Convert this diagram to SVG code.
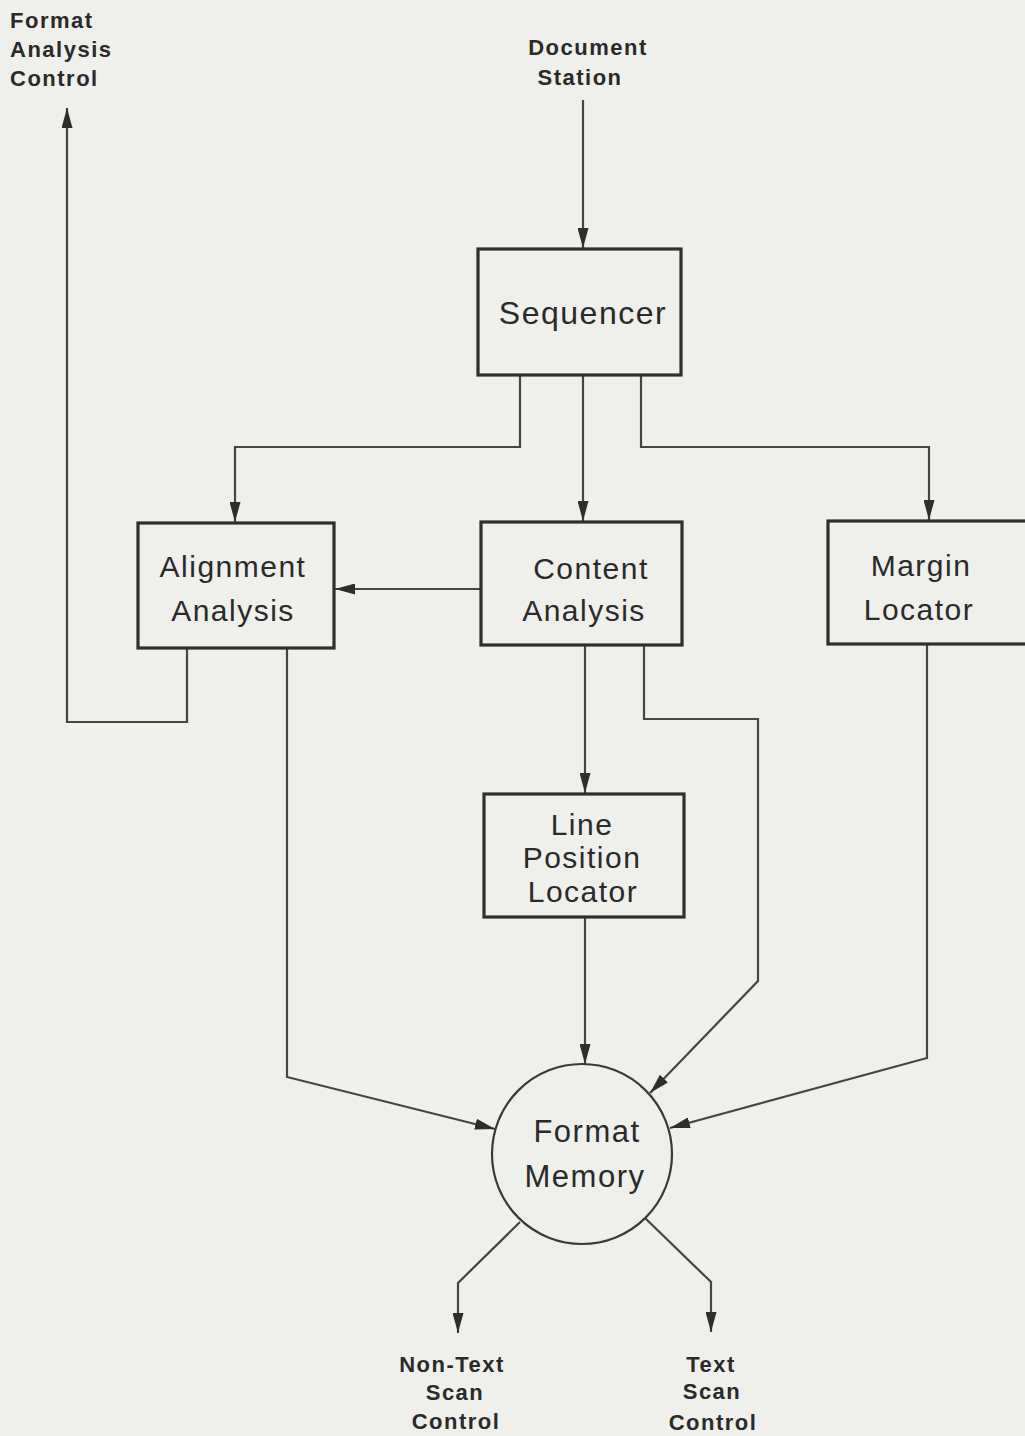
<svg xmlns="http://www.w3.org/2000/svg" width="1025" height="1436" viewBox="0 0 1025 1436">
<style>
.bg{fill:#efefeb}
.box{fill:#efefeb;stroke:#2e2e2e;stroke-width:3.2}
.circ{fill:#efefeb;stroke:#3a3a3a;stroke-width:2.2}
.c{fill:none;stroke:#454545;stroke-width:2.2;stroke-linejoin:miter}
.t{font-family:"Liberation Sans",Arial,sans-serif;font-size:30px;fill:#2a2a2a;text-anchor:middle;letter-spacing:1.5px}
.b{font-family:"Liberation Sans",Arial,sans-serif;font-size:22px;font-weight:bold;fill:#2a2a2a;letter-spacing:1.5px}
</style>
<defs>
<marker id="ah" viewBox="0 0 20 11" refX="20" refY="5.5" markerWidth="20" markerHeight="11" markerUnits="userSpaceOnUse" orient="auto">
<path d="M0,0 L20,5.5 L0,11 Z" fill="#2e2e2e"/>
</marker>
</defs>
<rect class="bg" x="0" y="0" width="1025" height="1436"/>

<g id="connectors">
<path class="c" d="M583,100 V248" marker-end="url(#ah)"/>
<path class="c" d="M520,375 V447 H235 V522" marker-end="url(#ah)"/>
<path class="c" d="M583,375 V521" marker-end="url(#ah)"/>
<path class="c" d="M641,375 V447 H929 V520" marker-end="url(#ah)"/>
<path class="c" d="M481,589 H335" marker-end="url(#ah)"/>
<path class="c" d="M187,648 V722 H67 V108" marker-end="url(#ah)"/>
<path class="c" d="M287,648 V1077 L495,1129" marker-end="url(#ah)"/>
<path class="c" d="M585,645 V793" marker-end="url(#ah)"/>
<path class="c" d="M644,645 V719 H758 V981 L650,1093" marker-end="url(#ah)"/>
<path class="c" d="M585,917 V1064" marker-end="url(#ah)"/>
<path class="c" d="M927,645 V1058 L670,1128" marker-end="url(#ah)"/>
<path class="c" d="M520,1222 L458,1283 V1333" marker-end="url(#ah)"/>
<path class="c" d="M645,1218 L711,1282 V1332" marker-end="url(#ah)"/>
</g>

<g id="format-analysis-control">
<text class="b" x="10" y="28">Format</text>
<text class="b" x="10" y="57">Analysis</text>
<text class="b" x="10" y="86">Control</text>
</g>

<g id="document-station">
<text class="b" x="588" y="55" text-anchor="middle">Document</text>
<text class="b" x="580" y="85" text-anchor="middle">Station</text>
</g>

<g id="sequencer">
<rect class="box" x="478" y="249" width="203" height="126"/>
<text class="t" x="583" y="324" style="font-size:32px">Sequencer</text>
</g>

<g id="alignment-analysis">
<rect class="box" x="138" y="523" width="196" height="125"/>
<text class="t" x="233" y="577">Alignment</text>
<text class="t" x="233" y="621">Analysis</text>
</g>

<g id="content-analysis">
<rect class="box" x="481" y="522" width="201" height="123"/>
<text class="t" x="591" y="579">Content</text>
<text class="t" x="584" y="621">Analysis</text>
</g>

<g id="margin-locator">
<rect class="box" x="828" y="521" width="205" height="123"/>
<text class="t" x="921" y="576">Margin</text>
<text class="t" x="919" y="620">Locator</text>
</g>

<g id="line-position-locator">
<rect class="box" x="484" y="794" width="200" height="123"/>
<text class="t" x="582" y="835">Line</text>
<text class="t" x="582" y="868">Position</text>
<text class="t" x="583" y="902">Locator</text>
</g>

<g id="format-memory">
<circle class="circ" cx="582" cy="1154" r="90"/>
<text class="t" x="587" y="1142" style="font-size:31px">Format</text>
<text class="t" x="585" y="1187" style="font-size:31px">Memory</text>
</g>

<g id="non-text-scan-control">
<text class="b" x="452" y="1372" text-anchor="middle">Non-Text</text>
<text class="b" x="455" y="1400" text-anchor="middle">Scan</text>
<text class="b" x="456" y="1429" text-anchor="middle">Control</text>
</g>

<g id="text-scan-control">
<text class="b" x="711" y="1372" text-anchor="middle">Text</text>
<text class="b" x="712" y="1399" text-anchor="middle">Scan</text>
<text class="b" x="713" y="1430" text-anchor="middle">Control</text>
</g>
</svg>
